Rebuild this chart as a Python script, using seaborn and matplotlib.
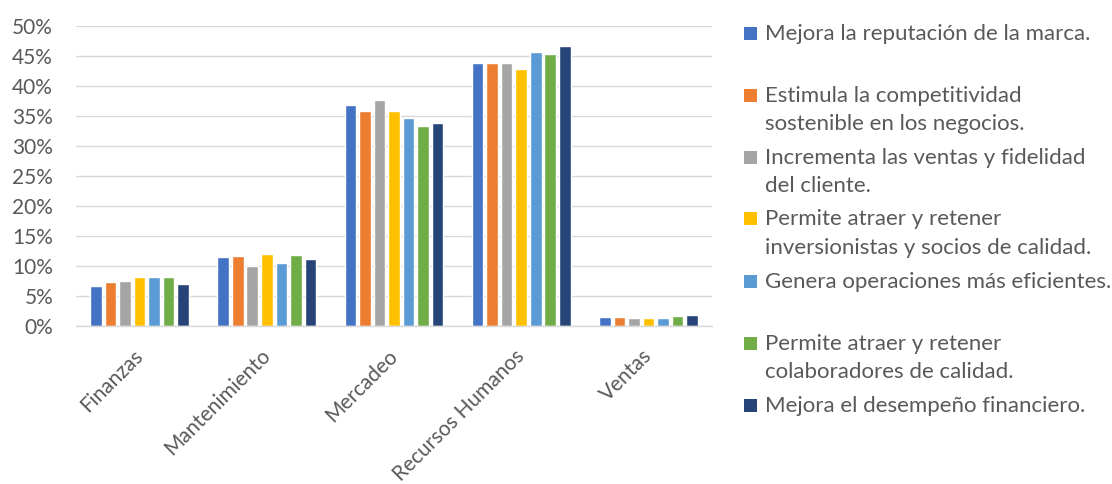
import matplotlib
matplotlib.use("Agg")
import matplotlib.pyplot as plt
from matplotlib.patches import Rectangle
import seaborn as sns
import pandas as pd

categories = ["Finanzas", "Mantenimiento", "Mercadeo", "Recursos Humanos", "Ventas"]
series_labels = [
    "Mejora la reputación de la marca.",
    "Estimula la competitividad\nsostenible en los negocios.",
    "Incrementa las ventas y fidelidad\ndel cliente.",
    "Permite atraer y retener\ninversionistas y socios de calidad.",
    "Genera operaciones más eficientes.",
    "Permite atraer y retener\ncolaboradores de calidad.",
    "Mejora el desempeño financiero.",
]
# values in percent, one list per series (order follows categories)
reputacion = [6.6, 11.5, 36.7, 43.7, 1.4]
competitividad = [7.3, 11.7, 35.8, 43.7, 1.45]
ventas_fidelidad = [7.4, 10.0, 37.6, 43.8, 1.25]
inversionistas = [8.2, 12.0, 35.8, 42.8, 1.25]
eficiencia = [8.1, 10.5, 34.6, 45.6, 1.25]
colaboradores = [8.1, 11.8, 33.3, 45.2, 1.6]
desempeno = [6.9, 11.1, 33.7, 46.6, 1.8]
series_values = [reputacion, competitividad, ventas_fidelidad, inversionistas,
                 eficiencia, colaboradores, desempeno]
y_ticks = [0, 5, 10, 15, 20, 25, 30, 35, 40, 45, 50]

colors = ["#4472C4", "#ED7D31", "#A5A5A5", "#FFC000", "#5B9BD5", "#70AD47", "#264478"]
text_color = "#595959"
grid_color = "#D9D9D9"

rows = []
for lab, vals in zip(series_labels, series_values):
    for cat, v in zip(categories, vals):
        rows.append({"Área": cat, "Serie": lab, "Valor": v})
df = pd.DataFrame(rows)

sns.set_theme(style="white")
plt.rcParams["font.family"] = ["Lato", "DejaVu Sans"]
FS = 15
LEG_FS = 16

W, H = 1112, 484
fig = plt.figure(figsize=(W / 100, H / 100), dpi=100)
ax = fig.add_axes([76 / W, 1 - 325.7 / H, (712 - 76) / W, (325.7 - 25.7) / H])

sns.barplot(data=df, x="Área", y="Valor", hue="Serie", order=categories,
            hue_order=series_labels, palette=colors, saturation=1,
            width=0.8, gap=0.2, legend=False, ax=ax, errorbar=None)

ax.set_ylim(0, 50)
ax.set_xlim(-0.5, len(categories) - 0.5)
ax.set_yticks(y_ticks)
ax.set_yticklabels([f"{t}%" for t in y_ticks])
ax.set_xlabel("")
ax.set_ylabel("")
ax.set_axisbelow(True)
ax.yaxis.grid(True, color=grid_color, linewidth=1.0)
ax.xaxis.grid(False)
for s in ["top", "right", "left"]:
    ax.spines[s].set_visible(False)
ax.spines["bottom"].set_color(grid_color)
ax.spines["bottom"].set_linewidth(1.0)

ax.tick_params(axis="y", length=0, pad=16.5, labelsize=FS, labelcolor=text_color)
ax.tick_params(axis="x", length=0, pad=19.5, labelsize=FS, labelcolor=text_color)
for lbl in ax.get_xticklabels():
    lbl.set_rotation(45)
    lbl.set_ha("right")
    lbl.set_va("center")
    lbl.set_rotation_mode("anchor")

# legend drawn at fixed slots like the original
slot = 62.0
first_base = 39.5
line_gap = 28.3
for i, (lab, col) in enumerate(zip(series_labels, colors)):
    base = first_base + slot * i
    fig.patches.append(Rectangle((744 / W, 1 - base / H), 13 / W, 13 / H,
                                 transform=fig.transFigure, facecolor=col,
                                 edgecolor="none"))
    for j, line in enumerate(lab.split("\n")):
        fig.text(765 / W, 1 - (base + j * line_gap) / H, line, fontsize=LEG_FS,
                 color=text_color, ha="left", va="baseline")

fig.savefig("out.png", dpi=100)
